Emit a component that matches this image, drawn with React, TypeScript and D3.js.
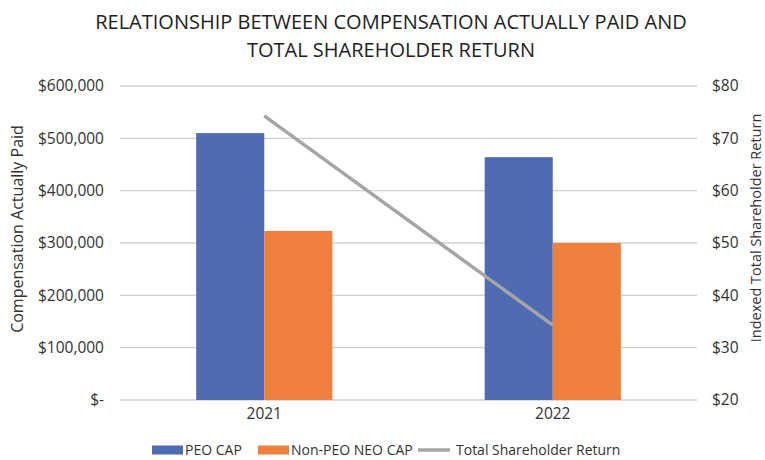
import React, { useRef, useEffect } from "react";
import * as d3 from "d3";

const years = ["2021", "2022"];
const peoCap = [510000, 464000];
const nonPeoCap = [323000, 300000];
const tsr = [74.3, 34.3];
const leftTicks = [0, 100000, 200000, 300000, 400000, 500000, 600000];
const rightTicks = [20, 30, 40, 50, 60, 70, 80];
const seriesNames = ["PEO CAP", "Non-PEO NEO CAP", "Total Shareholder Return"];
const colors = ["#4f6bb3", "#ee7f3d", "#a5a5a5"];

const W = 765;
const H = 460;
const FONT = "'Open Sans', sans-serif";

export default function App() {
  const svgRef = useRef<SVGSVGElement>(null);

  useEffect(() => {
    if (!svgRef.current) return;
    const svg = d3.select(svgRef.current);
    svg.selectAll("*").remove();

    const m = { left: 120, right: 68, top: 86, bottom: 60 };
    const x = d3.scaleBand().domain(years).range([m.left, W - m.right]).padding(0);
    const yL = d3.scaleLinear().domain([0, 600000]).range([H - m.bottom, m.top]);
    const yR = d3.scaleLinear().domain([20, 80]).range([H - m.bottom, m.top]);
    const barW = x.bandwidth() * 0.236;

    svg.append("rect").attr("width", W).attr("height", H).attr("fill", "#fff");

    // title
    const title = svg
      .append("text")
      .attr("text-anchor", "middle")
      .attr("font-family", FONT)
      .attr("font-size", 20)
      .attr("fill", "#222");
    title.append("tspan").attr("x", 391).attr("y", 29).text("RELATIONSHIP BETWEEN COMPENSATION ACTUALLY PAID AND");
    title.append("tspan").attr("x", 391).attr("y", 57).text("TOTAL SHAREHOLDER RETURN");

    // gridlines
    svg
      .append("g")
      .selectAll("line")
      .data(leftTicks)
      .join("line")
      .attr("x1", m.left)
      .attr("x2", W - m.right)
      .attr("y1", (d) => yL(d))
      .attr("y2", (d) => yL(d))
      .attr("stroke", "#d0d0d0")
      .attr("stroke-width", 1.3);

    // left tick labels
    const fmt = d3.format(",");
    svg
      .append("g")
      .selectAll("text")
      .data(leftTicks)
      .join("text")
      .attr("x", 104)
      .attr("y", (d) => yL(d))
      .attr("dy", "0.35em")
      .attr("text-anchor", "end")
      .attr("font-family", FONT)
      .attr("font-size", 15.5)
      .attr("fill", "#333")
      .text((d) => (d === 0 ? "$-" : "$" + fmt(d)));

    // right tick labels
    svg
      .append("g")
      .selectAll("text")
      .data(rightTicks)
      .join("text")
      .attr("x", 712)
      .attr("y", (d) => yR(d))
      .attr("dy", "0.35em")
      .attr("font-family", FONT)
      .attr("font-size", 15.5)
      .attr("fill", "#333")
      .text((d) => "$" + d);

    // x labels
    svg
      .append("g")
      .selectAll("text")
      .data(years)
      .join("text")
      .attr("x", (d) => (x(d) ?? 0) + x.bandwidth() / 2)
      .attr("y", 419)
      .attr("text-anchor", "middle")
      .attr("font-family", FONT)
      .attr("font-size", 15.5)
      .attr("fill", "#333")
      .text((d) => d);

    // axis titles
    svg
      .append("text")
      .attr("transform", `translate(23,229) rotate(-90)`)
      .attr("text-anchor", "middle")
      .attr("font-family", FONT)
      .attr("font-size", 16)
      .attr("fill", "#333")
      .text("Compensation Actually Paid");
    svg
      .append("text")
      .attr("transform", `translate(761,228) rotate(-90)`)
      .attr("text-anchor", "middle")
      .attr("font-family", FONT)
      .attr("font-size", 14.5)
      .attr("fill", "#333")
      .text("Indexed Total Shareholder Return");

    // bars
    const cx = (d: string) => (x(d) ?? 0) + x.bandwidth() / 2;
    svg
      .append("g")
      .selectAll("rect")
      .data(years)
      .join("rect")
      .attr("x", (d) => cx(d) - barW)
      .attr("y", (d, i) => yL(peoCap[i]))
      .attr("width", barW)
      .attr("height", (d, i) => yL(0) - yL(peoCap[i]))
      .attr("fill", colors[0]);
    svg
      .append("g")
      .selectAll("rect")
      .data(years)
      .join("rect")
      .attr("x", (d) => cx(d))
      .attr("y", (d, i) => yL(nonPeoCap[i]))
      .attr("width", barW)
      .attr("height", (d, i) => yL(0) - yL(nonPeoCap[i]))
      .attr("fill", colors[1]);

    // TSR line
    const line = d3
      .line<number>()
      .x((d, i) => cx(years[i]))
      .y((d) => yR(d));
    svg
      .append("path")
      .datum(tsr)
      .attr("d", line)
      .attr("fill", "none")
      .attr("stroke", colors[2])
      .attr("stroke-width", 3.5);

    // legend
    const legendX = [152, 258, 418];
    const ly = 450;
    const lg = svg.append("g");
    seriesNames.forEach((name, i) => {
      if (i < 2) {
        lg.append("rect")
          .attr("x", legendX[i])
          .attr("y", ly - 4.5)
          .attr("width", 31)
          .attr("height", 9)
          .attr("fill", colors[i]);
      } else {
        lg.append("line")
          .attr("x1", legendX[i])
          .attr("x2", legendX[i] + 32)
          .attr("y1", ly)
          .attr("y2", ly)
          .attr("stroke", colors[i])
          .attr("stroke-width", 3.5);
      }
      lg.append("text")
        .attr("x", legendX[i] + (i < 2 ? 33 : 38))
        .attr("y", ly)
        .attr("dy", "0.35em")
        .attr("font-family", FONT)
        .attr("font-size", 14)
        .attr("fill", "#333")
        .text(name);
    });
  }, []);

  return (
    <svg
      ref={svgRef}
      width={W}
      height={H}
      style={{ position: "absolute", left: 0, top: 0 }}
    ></svg>
  );
}
